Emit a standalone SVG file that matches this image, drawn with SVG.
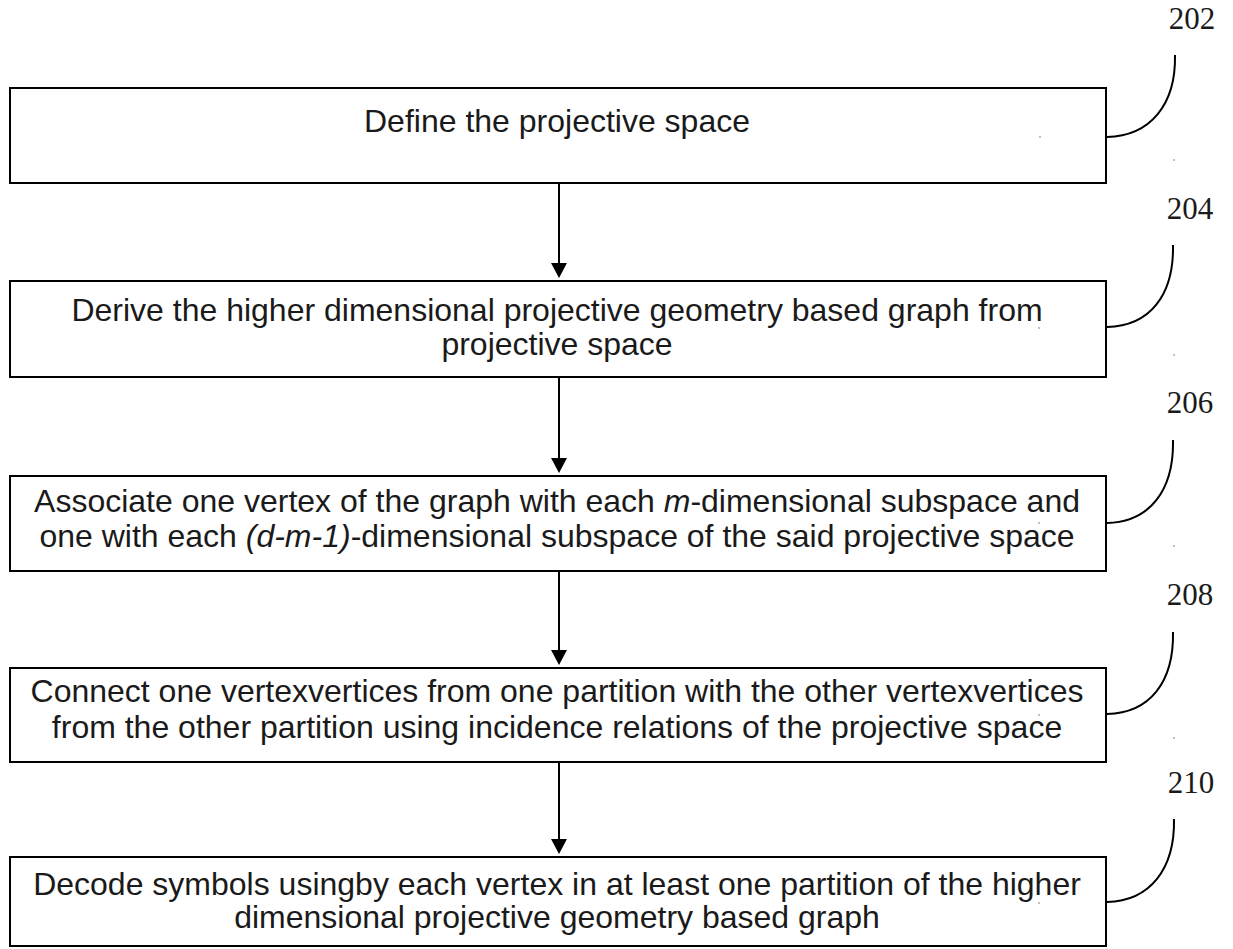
<svg xmlns="http://www.w3.org/2000/svg" width="1233" height="949" viewBox="0 0 1233 949">
<style>
.box{fill:#fff;stroke:#000;stroke-width:2}
.t{font-family:"Liberation Sans",Arial,sans-serif;font-size:32px;fill:#1a1a1a;text-anchor:middle}
.n{font-family:"Liberation Serif","Times New Roman",serif;font-size:31px;fill:#1a1a1a;text-anchor:middle}
.lead{fill:none;stroke:#000;stroke-width:2}
.arr{stroke:#000;stroke-width:2;fill:none}
.dot{fill:#555}
</style>
<defs>
<marker id="ah" markerWidth="16" markerHeight="15" refX="8" refY="15" orient="auto" markerUnits="userSpaceOnUse" viewBox="0 0 16 15">
<path d="M0,0 L16,0 L8,15 Z" fill="#000"/>
</marker>
</defs>
<rect width="1233" height="949" fill="#fff"/>
<g id="connectors">
<line class="arr" x1="559" y1="184" x2="559" y2="263"/>
<path d="M551,263 L567,263 L559,278 Z" fill="#000"/>
<line class="arr" x1="559" y1="377" x2="559" y2="458"/>
<path d="M551,458 L567,458 L559,473 Z" fill="#000"/>
<line class="arr" x1="559" y1="572" x2="559" y2="650"/>
<path d="M551,650 L567,650 L559,665 Z" fill="#000"/>
<line class="arr" x1="559" y1="763" x2="559" y2="839"/>
<path d="M551,839 L567,839 L559,854 Z" fill="#000"/>
</g>
<g id="node202">
<rect class="box" x="10" y="88" width="1096" height="95"/>
<text class="t" x="557" y="132">Define the projective space</text>
<path class="lead" d="M1107,137 C1150,136 1176,105 1175,55"/>
<text class="n" x="1192" y="29">202</text>
<circle class="dot" cx="1040" cy="137" r="0.7"/>
<circle class="dot" cx="1174" cy="160" r="0.7"/>
</g>
<g id="node204">
<rect class="box" x="10" y="281" width="1096" height="96"/>
<text class="t" x="557" y="321">Derive the higher dimensional projective geometry based graph from</text>
<text class="t" x="557" y="355">projective space</text>
<path class="lead" d="M1107,327 C1150,326 1174,295 1173,245"/>
<text class="n" x="1190" y="219">204</text>
<circle class="dot" cx="1039" cy="328" r="0.7"/>
<circle class="dot" cx="1174" cy="355" r="0.7"/>
</g>
<g id="node206">
<rect class="box" x="10" y="476" width="1096" height="95"/>
<text class="t" x="557" y="512">Associate one vertex of the graph with each <tspan font-style="italic">m</tspan>-dimensional subspace and</text>
<text class="t" x="557" y="547">one with each <tspan font-style="italic">(d-m-1)</tspan>-dimensional subspace of the said projective space</text>
<path class="lead" d="M1107,523 C1150,522 1174,490 1173,440"/>
<text class="n" x="1190" y="413">206</text>
<circle class="dot" cx="1039" cy="523" r="0.7"/>
<circle class="dot" cx="1174" cy="546" r="0.7"/>
</g>
<g id="node208">
<rect class="box" x="10" y="668" width="1096" height="94"/>
<text class="t" x="557" y="702">Connect one vertexvertices from one partition with the other vertexvertices</text>
<text class="t" x="557" y="738">from the other partition using incidence relations of the projective space</text>
<path class="lead" d="M1107,714 C1150,713 1174,682 1173,632"/>
<text class="n" x="1190" y="605">208</text>
<circle class="dot" cx="1039" cy="715" r="0.7"/>
<circle class="dot" cx="1174" cy="738" r="0.7"/>
</g>
<g id="node210">
<rect class="box" x="10" y="857" width="1096" height="89"/>
<text class="t" x="557" y="895">Decode symbols usingby each vertex in at least one partition of the higher</text>
<text class="t" x="557" y="928">dimensional projective geometry based graph</text>
<path class="lead" d="M1107,902 C1150,901 1175,869 1174,819"/>
<text class="n" x="1191" y="793">210</text>
<circle class="dot" cx="1039" cy="903" r="0.7"/>
</g>
</svg>
